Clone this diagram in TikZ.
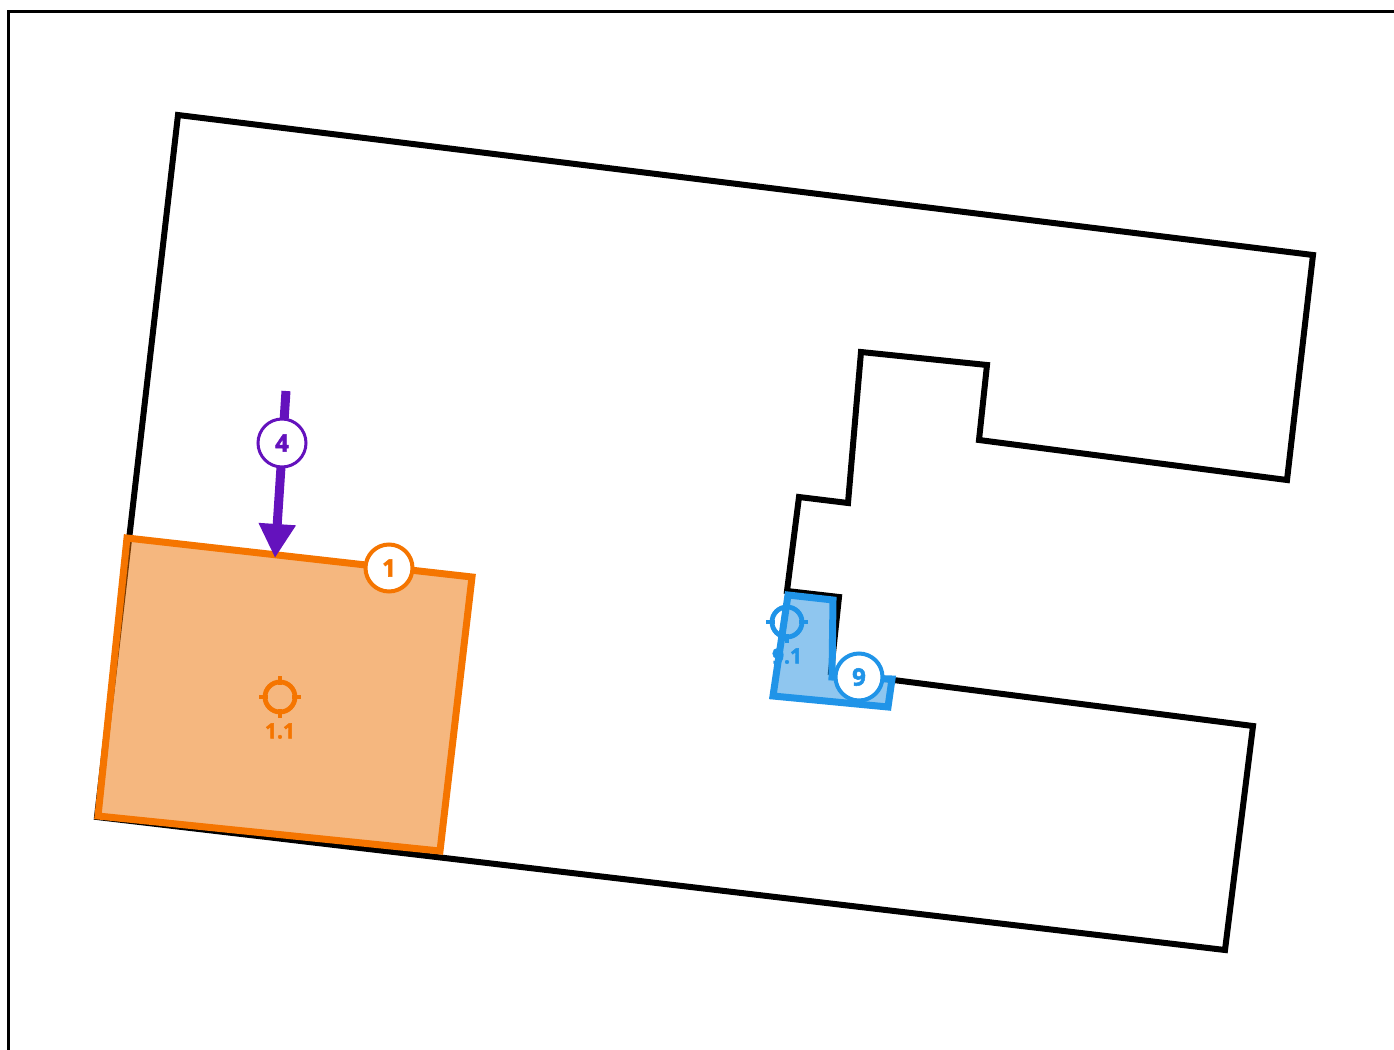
\documentclass[tikz,border=0pt]{standalone}
\usepackage{fontspec}
\setmainfont[BoldFeatures={FakeBold=2.2}]{Open Sans}
\usetikzlibrary{arrows.meta}
\definecolor{zoneorange}{HTML}{F57500}
\definecolor{zoneblue}{HTML}{2094E8}
\definecolor{markpurple}{HTML}{6412BD}
\tikzset{
  outline/.style={line width=3pt,line join=miter},
  zone/.style={line width=3.5pt,draw=#1,fill=#1!96!black,fill opacity=0.5,draw opacity=1},
  badge/.style={circle,draw=#1,fill=white,text=#1,line width=2pt,minimum size=23.5pt,inner sep=0pt,font=\fontsize{12}{12}\selectfont\bfseries},
  tag/.style={text=#1,inner sep=0pt,font=\fontsize{10.5}{10.5}\selectfont\bfseries},
  target/.pic={
    \draw[line width=2.4pt,draw=#1] (0,0) circle (15);
    \foreach \a in {0,90,180,270}
      \draw[line width=2.4pt,draw=#1] (\a:12) -- (\a:21);
  }
}
\begin{document}
\begin{tikzpicture}[x=0.5pt,y=-0.5pt]
  \useasboundingbox (0,0) rectangle (1394,1050);
  \draw[line width=1.5pt] (1394,11) -- (8,11) -- (8,1050);
  % building outline
  \draw[outline] (178,115) -- (1313,255) -- (1287,480) -- (979,440) -- (987,365)
    -- (861,352) -- (848,503) -- (799,497) -- (787,591) -- (839,597) -- (831,672)
    -- (1253,726) -- (1225,950) -- (97,817) -- cycle;
  % zones
  \draw[zone=zoneorange] (127,538) -- (472,577) -- (440,851) -- (98,816) -- cycle;
  \draw[zone=zoneblue] (788,595) -- (833,600) -- (832,677) -- (892,679) -- (888,707) -- (773,696) -- cycle;
  \pic at (280,697) {target=zoneorange};
  \pic at (787,622) {target=zoneblue};
  \node[tag=zoneorange] (lab11) at (280,731) {1.1};
  \node[tag=zoneblue] (lab91) at (787,656) {9.1};
  % arrow
  \coordinate (arrowfrom) at (286,391);
  \coordinate (arrowto) at (275,558);
  \draw[-{Triangle[length=17pt,width=17.5pt]},line width=4.5pt,draw=markpurple] (arrowfrom) -- (arrowto);
  \node[badge=markpurple,line width=1.5pt,minimum size=24pt] (badgefour) at (282,443) {4};
  \node[badge=zoneorange] (badgeone) at (389,568) {1};
  \node[badge=zoneblue] (badgenine) at (859,677) {9};
\end{tikzpicture}
\end{document}
